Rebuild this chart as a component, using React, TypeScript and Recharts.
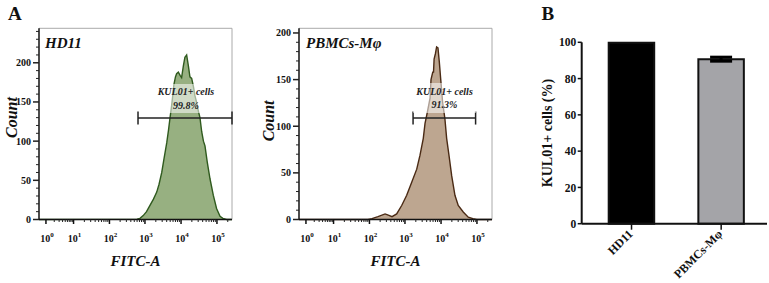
import {
  Area,
  AreaChart,
  Bar,
  BarChart,
  Cell,
  ErrorBar,
  Label,
  ReferenceArea,
  ReferenceLine,
  XAxis,
  YAxis,
} from "recharts";

const SERIF = "'Liberation Serif', 'Times New Roman', serif";

// FITC-A axis is drawn in display channels (0-1000) of the biexponential scale
const decadeChannels = [36, 179, 365, 549, 736, 922];
const decadeExponents = ["0", "1", "2", "3", "4", "5"];

// HD11 histogram
const hd11Channels = [
  0, 508, 523, 540, 557, 575, 593, 610, 622, 636, 648, 662, 671, 679, 687, 693,
  699, 707, 713, 722, 731, 739, 748, 756, 765, 774, 782, 791, 800, 808, 817, 826,
  834, 843, 852, 860, 872, 886, 903, 920, 938, 953, 972, 1000,
];
const hd11Counts = [
  0, 0.5, 1.5, 5, 10, 18, 26, 35, 45, 60, 78, 98, 114, 130, 145, 158, 172, 182,
  186, 188, 184, 181, 196, 207, 210, 196, 182, 180, 170, 158, 149, 138, 130, 112,
  100, 94, 73, 52, 31, 14, 4, 1.5, 0, 0,
];

// PBMCs-Mφ histogram
const pbmcChannels = [
  0, 357, 378, 409, 446, 466, 482, 506, 532, 558, 584, 610, 627, 644, 653, 665,
  679, 684, 693, 697, 700, 707, 713, 720, 727, 734, 744, 756, 765, 777, 791, 808,
  825, 851, 877, 901, 921, 1000,
];
const pbmcCounts = [
  0, 0, 1, 3, 6, 4.5, 3, 6, 15, 26, 40, 54, 69, 87, 103, 115, 130, 150, 158, 158,
  172, 178, 185, 184, 169, 151, 126, 108, 87, 69, 47, 26, 15, 8, 2.5, 1, 0, 0,
];

// KUL01+ gates (channel range, count level) and their labels
const hd11Gate = [513, 1000];
const hd11GateCount = 129.5;
const pbmcGate = [591, 915];
const pbmcGateCount = 108.8;
const gateName = "KUL01+ cells";
const hd11Pct = "99.8%";
const pbmcPct = "91.3%";

// panel B
const groups = ["HD11", "PBMCs-Mφ"];
const positivePct = [99.8, 90.7];
const positiveSd = [0, 1.1];
const barFills = ["#000000", "#a4a4a8"];

// log minor ticks between the decades
const minorChannels: number[] = [];
decadeChannels.forEach((start, d) => {
  const next =
    decadeChannels[d + 1] ?? start + (start - decadeChannels[d - 1]);
  for (let k = 2; k <= 9; k++) {
    const c = start + Math.log10(k) * (next - start);
    if (c < 1000) minorChannels.push(c);
  }
});
const fitcTicks = [...decadeChannels, ...minorChannels].sort((a, b) => a - b);

const FitcTick = ({ x, y, payload }: any) => {
  const idx = decadeChannels.indexOf(payload.value);
  if (idx < 0) {
    return <line x1={x} x2={x} y1={y} y2={y + 2.5} stroke="#222" strokeWidth={1} />;
  }
  return (
    <g>
      <line x1={x} x2={x} y1={y} y2={y + 4.5} stroke="#111" strokeWidth={1.5} />
      <text
        x={x + 1}
        y={y + 22.5}
        textAnchor="middle"
        fontFamily={SERIF}
        fontWeight="bold"
        fontSize={10}
        fill="#111"
      >
        10
        <tspan dy={-5} fontSize={7}>
          {decadeExponents[idx]}
        </tspan>
      </text>
    </g>
  );
};

const CountTick = ({ x, y, payload }: any) => {
  const major = payload.value % 50 === 0;
  return (
    <g>
      <line
        x1={x}
        x2={x - (major ? 6 : 3)}
        y1={y}
        y2={y}
        stroke="#222"
        strokeWidth={major ? 1.5 : 1}
      />
      {major && (
        <text
          x={x - 8}
          y={y}
          dy={3.5}
          textAnchor="end"
          fontFamily={SERIF}
          fontWeight="bold"
          fontSize={10}
          fill="#111"
        >
          {payload.value}
        </text>
      )}
    </g>
  );
};

const GroupTick = ({ x, y, payload }: any) => {
  const tx = x + 2;
  const ty = y + 3;
  return (
    <text
      x={tx}
      y={ty}
      transform={`rotate(-45, ${tx}, ${ty})`}
      textAnchor="end"
      fontFamily={SERIF}
      fontWeight="bold"
      fontSize={12}
      fill="#111"
    >
      {payload.value}
    </text>
  );
};

const rotatedTitle =
  (text: string, dx: number, dy: number, size: number, italic: boolean) =>
  (props: any) => {
    const { x, y, height } = props.viewBox;
    const cx = x + dx;
    const cy = y + height / 2 + dy;
    return (
      <text
        x={cx}
        y={cy}
        transform={`rotate(-90, ${cx}, ${cy})`}
        textAnchor="middle"
        dominantBaseline="central"
        fontFamily={SERIF}
        fontWeight="bold"
        fontStyle={italic ? "italic" : "normal"}
        fontSize={size}
        fill="#111"
      >
        {text}
      </text>
    );
  };

const fitcTitle = (props: any) => {
  const { x, y, width } = props.viewBox;
  return (
    <text
      x={x + width / 2}
      y={y + 46}
      textAnchor="middle"
      fontFamily={SERIF}
      fontWeight="bold"
      fontStyle="italic"
      fontSize={15}
      fill="#111"
    >
      FITC-A
    </text>
  );
};

const gateLabel = (pct: string) => (props: any) => {
  const { x, y, width } = props.viewBox;
  const cx = x + width / 2;
  return (
    <g
      fontFamily={SERIF}
      fontWeight="bold"
      fontStyle="italic"
      fontSize={10}
      fill="#222"
      textAnchor="middle"
    >
      <text x={cx} y={y + 11.5}>
        {gateName}
      </text>
      <text x={cx} y={y + 25}>
        {pct}
      </text>
    </g>
  );
};

interface HistogramProps {
  channels: number[];
  counts: number[];
  yMax: number;
  fill: string;
  stroke: string;
  gate: number[];
  gateCount: number;
  capHalf: number;
  box: number[];
  pct: string;
  titleDx: number;
  titleDy: number;
}

const HistogramPanel = ({
  channels,
  counts,
  yMax,
  fill,
  stroke,
  gate,
  gateCount,
  capHalf,
  box,
  pct,
  titleDx,
  titleDy,
}: HistogramProps) => {
  const data = channels.map((c, i) => ({ channel: c, count: counts[i] }));
  const yTicks: number[] = [];
  for (let v = 0; v <= yMax; v += 10) yTicks.push(v);

  return (
    <AreaChart
      width={250}
      height={283}
      data={data}
      margin={{ top: 28.3, right: 18, bottom: 33.5, left: 9 }}
    >
      <XAxis
        dataKey="channel"
        type="number"
        domain={[0, 1000]}
        ticks={fitcTicks}
        interval={0}
        tick={<FitcTick />}
        tickLine={false}
        tickSize={0}
        tickMargin={0}
        height={30}
        axisLine={{ stroke: "#111", strokeWidth: 1.5 }}
        label={<Label content={fitcTitle} />}
      />
      <YAxis
        type="number"
        domain={[0, yMax]}
        ticks={yTicks}
        interval={0}
        tick={<CountTick />}
        tickLine={false}
        tickSize={0}
        tickMargin={0}
        width={30}
        axisLine={{ stroke: "#111", strokeWidth: 1.5 }}
        label={<Label content={rotatedTitle("Count", titleDx, titleDy, 16, true)} />}
      />
      <ReferenceLine y={yMax} stroke="#aaa" strokeWidth={1} />
      <ReferenceLine x={1000} stroke="#aaa" strokeWidth={1} />
      <Area
        type="linear"
        dataKey="count"
        fill={fill}
        fillOpacity={1}
        stroke={stroke}
        strokeWidth={1.4}
        dot={false}
        activeDot={false}
        isAnimationActive={false}
      />
      <ReferenceArea
        x1={box[0]}
        x2={box[1]}
        y1={box[2]}
        y2={box[3]}
        fill="#ffffff"
        fillOpacity={0.55}
        stroke="none"
        zIndex={450}
        label={gateLabel(pct)}
      />
      <ReferenceLine
        segment={[
          { x: gate[0], y: gateCount },
          { x: gate[1], y: gateCount },
        ]}
        stroke="#222"
        strokeWidth={1.5}
      />
      <ReferenceLine
        segment={[
          { x: gate[0], y: gateCount - capHalf },
          { x: gate[0], y: gateCount + capHalf },
        ]}
        stroke="#222"
        strokeWidth={1.5}
      />
      <ReferenceLine
        segment={[
          { x: gate[1], y: gateCount - capHalf },
          { x: gate[1], y: gateCount + capHalf },
        ]}
        stroke="#222"
        strokeWidth={1.5}
      />
    </AreaChart>
  );
};

export default function App() {
  const barData = groups.map((g, i) => ({
    group: g,
    pct: positivePct[i],
    sd: positiveSd[i],
  }));

  return (
    <div
      style={{
        position: "absolute",
        left: 0,
        top: 0,
        width: 769,
        height: 283,
        background: "#fff",
      }}
    >
      <div style={{ position: "absolute", left: 0, top: 0 }}>
        <HistogramPanel
          channels={hd11Channels}
          counts={hd11Counts}
          yMax={244}
          fill="#97b081"
          stroke="#2f5a1e"
          gate={hd11Gate}
          gateCount={hd11GateCount}
          capHalf={8.3}
          box={[601, 922, 136, 173]}
          pct={hd11Pct}
          titleDx={2}
          titleDy={-6.4}
        />
      </div>
      <div style={{ position: "absolute", left: 260, top: 0 }}>
        <HistogramPanel
          channels={pbmcChannels}
          counts={pbmcCounts}
          yMax={205}
          fill="#bda690"
          stroke="#4a2a14"
          gate={pbmcGate}
          gateCount={pbmcGateCount}
          capHalf={7}
          box={[591, 917, 114.2, 146.3]}
          pct={pbmcPct}
          titleDx={0}
          titleDy={-3}
        />
      </div>
      <div style={{ position: "absolute", left: 510, top: 0 }}>
        <BarChart
          width={259}
          height={283}
          data={barData}
          margin={{ top: 42.3, right: 2, bottom: 9.3, left: 31.7 }}
          barSize={45.5}
        >
          <XAxis
            dataKey="group"
            height={50}
            padding={{ left: 5, right: 1 }}
            interval={0}
            axisLine={{ stroke: "#111", strokeWidth: 2 }}
            tickLine={{ stroke: "#111", strokeWidth: 1.5 }}
            tickSize={6}
            tickMargin={2}
            tick={<GroupTick />}
          />
          <YAxis
            type="number"
            domain={[0, 100]}
            ticks={[0, 20, 40, 60, 80, 100]}
            interval={0}
            width={40}
            axisLine={{ stroke: "#111", strokeWidth: 2 }}
            tickLine={{ stroke: "#111", strokeWidth: 1.5 }}
            tickSize={4}
            tickMargin={1.5}
            tick={{
              fontFamily: SERIF,
              fontWeight: "bold",
              fontSize: 11.5,
              fill: "#111",
            }}
            label={
              <Label
                content={rotatedTitle("KUL01+ cells (%)", 5.8, 0, 14, false)}
              />
            }
          />
          <Bar
            dataKey="pct"
            stroke="#111"
            strokeWidth={2}
            isAnimationActive={false}
          >
            {barData.map((d, i) => (
              <Cell key={`cell-${d.group}`} fill={barFills[i]} />
            ))}
            <ErrorBar
              dataKey="sd"
              width={11}
              strokeWidth={3}
              stroke="#000"
              direction="y"
            />
          </Bar>
        </BarChart>
      </div>
      <svg
        width={769}
        height={283}
        style={{ position: "absolute", left: 0, top: 0, pointerEvents: "none" }}
      >
        <g fontFamily={SERIF} fontWeight="bold" fill="#111">
          <text x={8} y={20} fontSize={19}>
            A
          </text>
          <text x={541.5} y={19.5} fontSize={19}>
            B
          </text>
          <text x={45} y={48} fontSize={15} fontStyle="italic">
            HD11
          </text>
          <text x={306} y={48} fontSize={15} fontStyle="italic">
            PBMCs-Mφ
          </text>
        </g>
      </svg>
    </div>
  );
}
